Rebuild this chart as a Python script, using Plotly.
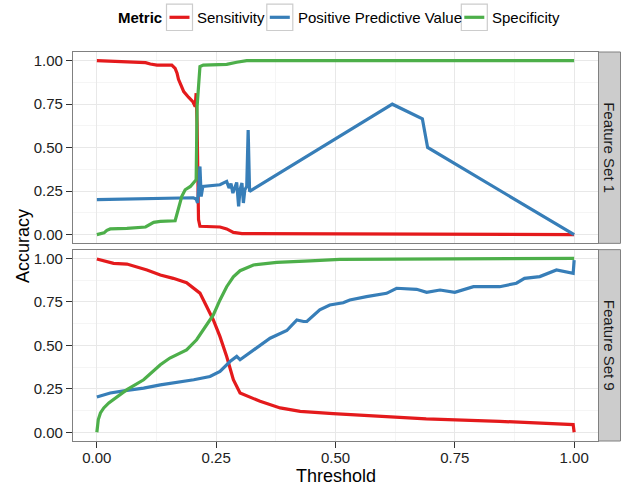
import plotly.graph_objects as go
from plotly.subplots import make_subplots

# ---------------- data ----------------
metrics = ["Sensitivity", "Positive Predictive Value", "Specificity"]
colors = {"Sensitivity": "#E41A1C", "Positive Predictive Value": "#377EB8", "Specificity": "#4DAF4A"}
facets = ["Feature Set 1", "Feature Set 9"]

# Feature Set 1
fs1_sens_x = [0.0, 0.063, 0.102, 0.112, 0.126, 0.157, 0.164, 0.168, 0.171, 0.176, 0.182, 0.192, 0.201, 0.206,
              0.208, 0.210, 0.211, 0.213, 0.216, 0.258, 0.272, 0.286, 0.304, 0.50, 0.69, 0.70, 1.0]
fs1_sens_y = [1.0, 0.994, 0.989, 0.981, 0.975, 0.975, 0.956, 0.928, 0.893, 0.861, 0.822, 0.790, 0.765, 0.736,
              0.813, 0.641, 0.316, 0.086, 0.048, 0.044, 0.033, 0.013, 0.006, 0.005, 0.004, 0.002, 0.0]

fs1_ppv_x = [0.0, 0.063, 0.133, 0.202, 0.208, 0.211, 0.216, 0.2185, 0.222, 0.237, 0.258, 0.272, 0.277, 0.281,
             0.285, 0.290, 0.293, 0.297, 0.300, 0.304, 0.307, 0.310, 0.314, 0.317, 0.320, 0.619, 0.682, 0.693, 1.0]
fs1_ppv_y = [0.201, 0.205, 0.208, 0.212, 0.205, 0.182, 0.392, 0.220, 0.277, 0.283, 0.287, 0.306, 0.268, 0.293,
             0.239, 0.277, 0.300, 0.162, 0.258, 0.297, 0.182, 0.258, 0.277, 0.602, 0.249, 0.750, 0.666, 0.501, 0.0]

fs1_spec_x = [0.0, 0.015, 0.021, 0.028, 0.063, 0.102, 0.119, 0.133, 0.164, 0.171, 0.178, 0.185, 0.196, 0.208,
              0.210, 0.213, 0.216, 0.223, 0.272, 0.293, 0.314, 1.0]
fs1_spec_y = [0.0, 0.010, 0.025, 0.033, 0.036, 0.044, 0.071, 0.076, 0.080, 0.143, 0.220, 0.258, 0.277, 0.316,
              0.736, 0.851, 0.966, 0.975, 0.979, 0.991, 1.0, 1.0]

# Feature Set 9
fs9_sens_x = [0.0, 0.035, 0.063, 0.105, 0.133, 0.160, 0.188, 0.209, 0.216, 0.230, 0.244, 0.258, 0.272, 0.286,
              0.300, 0.342, 0.384, 0.426, 0.481, 0.495, 0.690, 0.844, 0.998, 1.0]
fs9_sens_y = [0.996, 0.971, 0.967, 0.933, 0.904, 0.885, 0.860, 0.818, 0.800, 0.723, 0.646, 0.550, 0.436, 0.302,
              0.226, 0.178, 0.140, 0.120, 0.107, 0.107, 0.077, 0.063, 0.044, 0.0]

fs9_ppv_x = [0.0, 0.028, 0.063, 0.098, 0.133, 0.168, 0.203, 0.237, 0.258, 0.279, 0.293, 0.300, 0.328, 0.363,
             0.398, 0.419, 0.433, 0.440, 0.467, 0.488, 0.516, 0.530, 0.565, 0.607, 0.628, 0.670, 0.691, 0.719,
             0.750, 0.789, 0.844, 0.879, 0.896, 0.928, 0.963, 0.984, 0.998, 1.0]
fs9_ppv_y = [0.203, 0.226, 0.241, 0.254, 0.273, 0.287, 0.302, 0.321, 0.350, 0.407, 0.436, 0.417, 0.474, 0.541,
             0.585, 0.646, 0.637, 0.637, 0.704, 0.732, 0.745, 0.761, 0.780, 0.799, 0.828, 0.822, 0.805, 0.818,
             0.805, 0.837, 0.837, 0.857, 0.885, 0.895, 0.933, 0.923, 0.914, 0.990]

fs9_spec_x = [0.0, 0.003, 0.0075, 0.0145, 0.025, 0.039, 0.063, 0.098, 0.133, 0.153, 0.188, 0.209, 0.216, 0.244,
              0.258, 0.272, 0.286, 0.300, 0.328, 0.377, 0.447, 0.509, 1.0]
fs9_spec_y = [0.0, 0.073, 0.111, 0.140, 0.169, 0.197, 0.245, 0.302, 0.388, 0.427, 0.474, 0.532, 0.560, 0.675,
              0.761, 0.837, 0.894, 0.929, 0.962, 0.977, 0.986, 0.994, 1.0]

series = {
    "Feature Set 1": {
        "Sensitivity": (fs1_sens_x, fs1_sens_y),
        "Positive Predictive Value": (fs1_ppv_x, fs1_ppv_y),
        "Specificity": (fs1_spec_x, fs1_spec_y),
    },
    "Feature Set 9": {
        "Sensitivity": (fs9_sens_x, fs9_sens_y),
        "Positive Predictive Value": (fs9_ppv_x, fs9_ppv_y),
        "Specificity": (fs9_spec_x, fs9_spec_y),
    },
}

tick_vals = [0.0, 0.25, 0.5, 0.75, 1.0]
tick_text = ["0.00", "0.25", "0.50", "0.75", "1.00"]

# ---------------- figure ----------------
W, H = 623, 487
ML, MR, MT, MB = 73, 25, 52, 46
PW, PH = W - ML - MR, H - MT - MB
gap = 6.3

def px_x(p):
    return (p - ML) / PW

def px_y(p):
    return (H - MB - p) / PH

fig = make_subplots(rows=2, cols=1, shared_xaxes=True, vertical_spacing=gap / PH)

FONT = "Liberation Sans, Arial, sans-serif"

for r, facet in enumerate(facets, start=1):
    for m in metrics:
        xs, ys = series[facet][m]
        fig.add_trace(go.Scatter(x=xs, y=ys, mode="lines", name=m, showlegend=False,
                                 line=dict(color=colors[m], width=3.2)), row=r, col=1)

axis_common = dict(
    showline=True, linecolor="#808080", linewidth=1.2, mirror=True,
    showgrid=True, gridcolor="#e8e8e8", gridwidth=1,
    zeroline=False,
    minor=dict(dtick=0.125, tick0=0, showgrid=True, gridcolor="#f5f5f5", gridwidth=1, ticks=""),
    tickfont=dict(family=FONT, size=15, color="#222222"),
    tickmode="array", tickvals=tick_vals, ticktext=tick_text,
)

for r in (1, 2):
    fig.update_yaxes(range=[-0.05, 1.05], ticks="outside", ticklen=6, tickcolor="#333333",
                     tickwidth=1, **axis_common, row=r, col=1)
fig.update_xaxes(range=[-0.05, 1.05], ticks="", showticklabels=False, **axis_common, row=1, col=1)
fig.update_xaxes(range=[-0.05, 1.05], ticks="outside", ticklen=6, tickcolor="#333333", tickwidth=1,
                 ticklabelstandoff=-3, showticklabels=True, **axis_common, row=2, col=1)

shapes = []
annotations = []

# facet strips
panel_bounds = [(MT, MT + (PH - gap) / 2), (MT + (PH + gap) / 2, H - MB)]
for facet, (top, bot) in zip(facets, panel_bounds):
    shapes.append(dict(type="rect", xref="paper", yref="paper",
                       x0=px_x(598.5), x1=px_x(620.5), y0=px_y(bot), y1=px_y(top),
                       fillcolor="#cccccc", line=dict(color="#808080", width=1)))
    annotations.append(dict(text=facet, xref="paper", yref="paper", x=px_x(609.5), y=px_y((top + bot) / 2),
                            textangle=90, showarrow=False, xanchor="center", yanchor="middle",
                            font=dict(family=FONT, size=15, color="#1a1a1a")))

# axis titles
annotations.append(dict(text="Accuracy", xref="paper", yref="paper", x=px_x(22.5), y=px_y((MT + H - MB) / 2),
                        textangle=-90, showarrow=False, xanchor="center", yanchor="middle",
                        font=dict(family=FONT, size=18, color="#000000")))
annotations.append(dict(text="Threshold", xref="paper", yref="paper", x=0.5, y=px_y(475.5),
                        showarrow=False, xanchor="center", yanchor="middle",
                        font=dict(family=FONT, size=18, color="#000000")))

# legend (top, horizontal)
leg_y = 17.3
annotations.append(dict(text="<b>Metric</b>", xref="paper", yref="paper", x=px_x(115.5), y=px_y(leg_y),
                        showarrow=False, xanchor="left", yanchor="middle",
                        font=dict(family=FONT, size=15, color="#000000")))
legend_items = [("Sensitivity", 166.5, 195.0), ("Positive Predictive Value", 266.8, 295.5),
                ("Specificity", 461.3, 489.7)]
for name, bx, tx in legend_items:
    shapes.append(dict(type="rect", xref="paper", yref="paper",
                       x0=px_x(bx), x1=px_x(bx + 26), y0=px_y(leg_y + 13.2), y1=px_y(leg_y - 13.2),
                       fillcolor="#ffffff", line=dict(color="#cccccc", width=1.2)))
    shapes.append(dict(type="line", xref="paper", yref="paper",
                       x0=px_x(bx + 3), x1=px_x(bx + 23), y0=px_y(leg_y), y1=px_y(leg_y),
                       line=dict(color=colors[name], width=3.2)))
    annotations.append(dict(text=name, xref="paper", yref="paper", x=px_x(tx), y=px_y(leg_y),
                            showarrow=False, xanchor="left", yanchor="middle",
                            font=dict(family=FONT, size=15, color="#000000")))

fig.update_layout(
    width=W, height=H,
    margin=dict(l=ML, r=MR, t=MT, b=MB),
    paper_bgcolor="#ffffff", plot_bgcolor="#ffffff",
    showlegend=False,
    shapes=shapes, annotations=annotations,
    font=dict(family=FONT),
)

fig.write_html("out.html")
